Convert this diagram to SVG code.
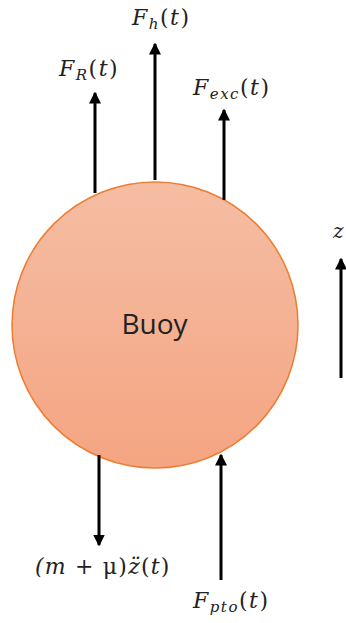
<svg xmlns="http://www.w3.org/2000/svg" width="346" height="623" viewBox="0 0 346 623">
<defs>
<linearGradient id="g" x1="0" y1="0" x2="0" y2="1">
<stop offset="0" stop-color="#F5BDA3"/>
<stop offset="1" stop-color="#F4A582"/>
</linearGradient>
<marker id="ah" markerWidth="4" markerHeight="4" refX="3.5" refY="2" orient="auto" markerUnits="strokeWidth">
<path d="M0,0 L4,2 L0,4 z" fill="#000"/>
</marker>
<style>
.c{stroke:#000;stroke-width:3;fill:none;marker-end:url(#ah)}
.m{font-family:"DejaVu Serif",serif;font-style:italic;font-size:22px;fill:#222;letter-spacing:1.5px}
.s{font-size:15px}
.u{font-style:normal}
</style>
</defs>
<rect width="346" height="623" fill="#fff"/>
<g id="buoy">
<circle cx="155" cy="325" r="143" fill="url(#g)" stroke="#ED7D31" stroke-width="1.5"/>
<text x="154.5" y="334" text-anchor="middle" font-family="Open Sans, sans-serif" font-size="28" fill="#222">Buoy</text>
</g>
<g id="connectors">
<line class="c" x1="95" y1="193" x2="95" y2="93"/>
<line class="c" x1="155" y1="180" x2="155" y2="44"/>
<line class="c" x1="224" y1="200" x2="224" y2="110"/>
<line class="c" x1="99" y1="455" x2="99" y2="545"/>
<line class="c" x1="221" y1="580" x2="221" y2="455"/>
<line class="c" x1="341" y1="378" x2="341" y2="259"/>
</g>
<g id="labels">
<text class="m" x="59" y="76">F<tspan class="s" dy="4">R</tspan><tspan class="u" dy="-4">(</tspan>t<tspan class="u">)</tspan></text>
<text class="m" x="132" y="25">F<tspan class="s" dy="4">h</tspan><tspan class="u" dy="-4">(</tspan>t<tspan class="u">)</tspan></text>
<text class="m" x="193" y="95">F<tspan class="s" dy="4">exc</tspan><tspan class="u" dy="-4">(</tspan>t<tspan class="u">)</tspan></text>
<text class="m" x="35" y="574" style="letter-spacing:1.2px">(m <tspan class="u">+ μ)</tspan>z̈<tspan class="u">(</tspan>t<tspan class="u">)</tspan></text>
<text class="m" x="193" y="608">F<tspan class="s" dy="4">pto</tspan><tspan class="u" dy="-4">(</tspan>t<tspan class="u">)</tspan></text>
<text class="m" x="333" y="238" style="letter-spacing:0;font-size:20px">z</text>
</g>
</svg>
